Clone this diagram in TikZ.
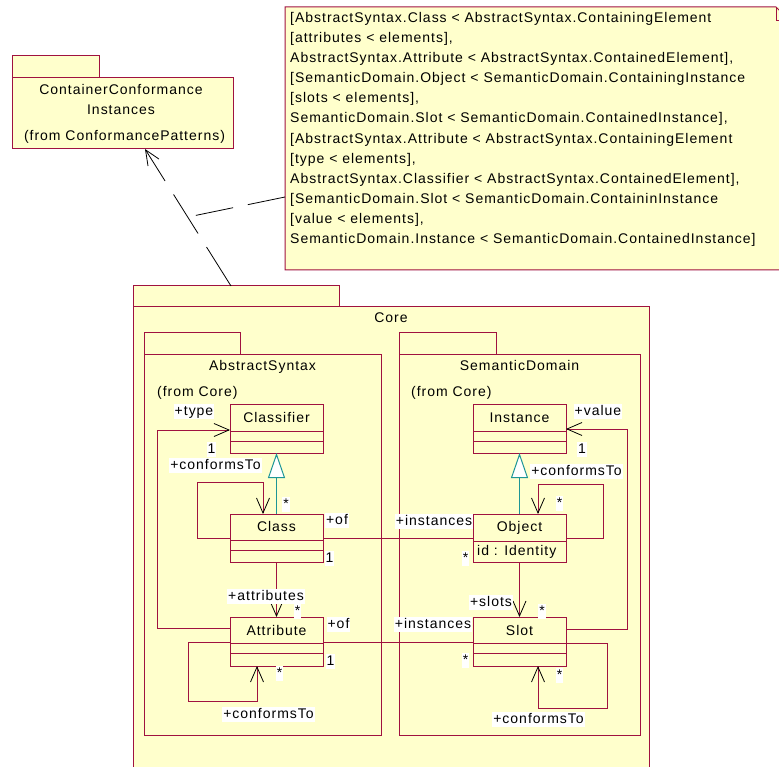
\documentclass[tikz,border=0pt]{standalone}
\usepackage{fontspec}
\setmainfont{Liberation Sans}[LetterSpace=7]
\usetikzlibrary{arrows.meta}

\definecolor{umlred}{RGB}{160,18,64}
\definecolor{umlfill}{RGB}{255,255,204}
\definecolor{umlteal}{RGB}{30,150,150}

\begin{document}
\begin{tikzpicture}[x=1pt,y=-1pt,
  font=\fontsize{14}{17}\selectfont,
  box/.style={draw=umlred, fill=umlfill, line width=1pt, inner sep=0pt, outer sep=0pt},
  cls/.style={box, minimum width=93pt, minimum height=49pt},
  sep/.style={draw=umlred, line width=1pt},
  txt/.style={inner sep=0pt, anchor=base},
  lbl/.style={fill=white, inner xsep=1pt, inner ysep=0.5pt, text height=11pt, text depth=3pt},
  assoc/.style={draw=umlred, line width=1pt},
  nav/.style={assoc, -{Straight Barb[length=15pt,width=13pt,color=black,line width=0.8pt]}},
  gen/.style={draw=umlteal, line width=1pt, -{Triangle[length=25pt,width=17pt,fill=white]}},
  dep/.style={draw=black, line width=0.8pt, dash pattern=on 46pt off 16pt,
              -{Straight Barb[length=15pt,width=13pt,line width=0.8pt]}},
  anchorline/.style={draw=black, line width=0.8pt, dash pattern=on 38pt off 15pt}
]
\path[use as bounding box, clip] (0,0) rectangle (779,767);

% ---- package ContainerConformanceInstances ----
\node[box, minimum width=87pt, minimum height=22pt] (ccTab) at (55.5,67) {};
\node[box, minimum width=221pt, minimum height=71pt] (ccBody) at (122.5,113.5) {};
\node[txt] (ccName1) at (121,94.5) {ContainerConformance};
\node[txt] (ccName2) at (121,114.5) {Instances};
\node[txt] (ccFrom) at (124.5,141) {(from ConformancePatterns)};

% ---- constraint note ----
\node[fill=umlfill, minimum width=505pt, minimum height=263pt, inner sep=0pt, anchor=north west] (note) at (285,7) {};
\draw[umlred, line width=1pt] (285,7) -- (776,7) -- (790,21) -- (790,270) -- (285,270) -- cycle;
\draw[umlred, line width=1pt] (776,7) -- (776,21) -- (790,21);
\node[inner sep=0pt, anchor=north west, align=left, font=\fontsize{14}{20.1}\selectfont] (noteText) at (290,8.23) {\strut
[AbstractSyntax.Class < AbstractSyntax.ContainingElement\\{}%
[attributes < elements],\\{}%
AbstractSyntax.Attribute < AbstractSyntax.ContainedElement],\\{}%
[SemanticDomain.Object < SemanticDomain.ContainingInstance\\{}%
[slots < elements],\\{}%
SemanticDomain.Slot < SemanticDomain.ContainedInstance],\\{}%
[AbstractSyntax.Attribute < AbstractSyntax.ContainingElement\\{}%
[type < elements],\\{}%
AbstractSyntax.Classifier < AbstractSyntax.ContainedElement],\\{}%
[SemanticDomain.Slot < SemanticDomain.ContaininInstance\\{}%
[value < elements],\\{}%
SemanticDomain.Instance < SemanticDomain.ContainedInstance]};

% ---- package Core and its subpackages ----
\node[box, minimum width=206pt, minimum height=21pt] (coreTab) at (236,296.5) {};
\node[box, minimum width=516pt, minimum height=483pt] (coreBody) at (391,548.5) {};
\node[txt] (coreName) at (391,323) {Core};

\node[box, minimum width=96pt, minimum height=22pt] (asTab) at (192,343) {};
\node[box, minimum width=237pt, minimum height=381pt] (asBody) at (262.5,544.5) {};
\node[txt] (asName) at (262.5,370) {AbstractSyntax};
\node[txt, anchor=base west] (asFrom) at (157,396.5) {(from Core)};

\node[box, minimum width=97pt, minimum height=22pt] (sdTab) at (447.5,343) {};
\node[box, minimum width=241pt, minimum height=381pt] (sdBody) at (519.5,544.5) {};
\node[txt] (sdName) at (519.5,370) {SemanticDomain};
\node[txt, anchor=base west] (sdFrom) at (411,396.5) {(from Core)};

% ---- classes ----
\node[cls] (classifier) at (276.5,428.5) {};
\draw[sep] (230,431) -- (323,431) (230,441) -- (323,441);
\node[txt] (classifierName) at (276.5,422.5) {Classifier};

\node[cls, minimum height=48pt] (class) at (276.5,538) {};
\draw[sep] (230,540) -- (323,540) (230,550) -- (323,550);
\node[txt] (className) at (276.5,531.5) {Class};

\node[cls] (attribute) at (276.5,641.5) {};
\draw[sep] (230,643) -- (323,643) (230,653) -- (323,653);
\node[txt] (attributeName) at (276.5,635.5) {Attribute};

\node[cls] (instance) at (519.5,428.5) {};
\draw[sep] (473,431) -- (566,431) (473,441) -- (566,441);
\node[txt] (instanceName) at (519.5,422.5) {Instance};

\node[cls, minimum height=48pt] (object) at (519.5,538) {};
\draw[sep] (473,541) -- (566,541);
\node[txt] (objectName) at (519.5,531.5) {Object};
\node[txt, anchor=base west] (objectAttr) at (477,555.5) {id : Identity};

\node[cls] (slot) at (519.5,641.5) {};
\draw[sep] (473,643) -- (566,643) (473,653) -- (566,653);
\node[txt] (slotName) at (519.5,635.5) {Slot};

% ---- dependency and note anchor ----
\draw[dep] (coreTab.north -| 231,0) -- (ccBody.south -| 145,0);
\coordinate (depMid) at (188,217);
\draw[anchorline] (note.west |- 0,197) -- (depMid);

% ---- generalizations ----
\draw[gen] (class.north) -- (classifier.south);
\draw[gen] (object.north) -- (instance.south);

% ---- associations ----
\draw[nav] (attribute.west |- 0,628) -- (157,628) -- (157,430) -- (classifier.west |- 0,430);
\draw[nav] (class.west) -- (197,538) -- (197,482) -- (263,482) -- (class.north -| 263,0);
\draw[nav] (class.south) -- (attribute.north);
\draw[nav] (attribute.west |- 0,642) -- (188,642) -- (188,701) -- (257,701) -- (attribute.south -| 257,0);
\draw[assoc] (class.east) -- (object.west);
\draw[assoc] (attribute.east |- 0,642) -- (slot.west |- 0,642);
\draw[nav] (object.east) -- (603,538) -- (603,484) -- (538,484) -- (object.north -| 538,0);
\draw[nav] (slot.east |- 0,629) -- (627,629) -- (627,429) -- (instance.east |- 0,429);
\draw[nav] (object.south) -- (slot.north);
\draw[nav] (slot.east |- 0,643) -- (607,643) -- (607,708) -- (538,708) -- (slot.south -| 538,0);

% ---- role names and multiplicities ----
\node[lbl] (typeRole) at (194,411) {+type};
\node[lbl] (typeMult) at (211.5,449.5) {1};
\node[lbl] (clsConfRole) at (215.5,465.5) {+conformsTo};
\node[lbl] (clsConfMult) at (286,504) {*};
\node[lbl] (attrsRole) at (266,596) {+attributes};
\node[lbl] (attrsMult) at (297.5,611) {*};
\node[lbl] (attrConfMult) at (279.5,673) {*};
\node[lbl] (attrConfRole) at (268.5,714.5) {+conformsTo};
\node[lbl] (clsOfRole) at (337,520) {+of};
\node[lbl] (clsOfMult) at (329.5,558.5) {1};
\node[lbl] (objInstRole) at (434,521.5) {+instances};
\node[lbl] (objInstMult) at (465.5,558.5) {*};
\node[lbl] (attrOfRole) at (338.5,624) {+of};
\node[lbl] (attrOfMult) at (330.5,661) {1};
\node[lbl] (slotInstRole) at (433,624) {+instances};
\node[lbl] (slotInstMult) at (465.5,660.5) {*};
\node[lbl] (slotsRole) at (491,602) {+slots};
\node[lbl] (slotsMult) at (542,611) {*};
\node[lbl] (slotConfMult) at (559.5,675) {*};
\node[lbl] (slotConfRole) at (538.5,719.5) {+conformsTo};
\node[lbl] (objConfMult) at (559.5,503) {*};
\node[lbl] (objConfRole) at (576.5,471) {+conformsTo};
\node[lbl] (valueRole) at (598,411) {+value};
\node[lbl] (valueMult) at (582,449.5) {1};
\end{tikzpicture}
\end{document}
